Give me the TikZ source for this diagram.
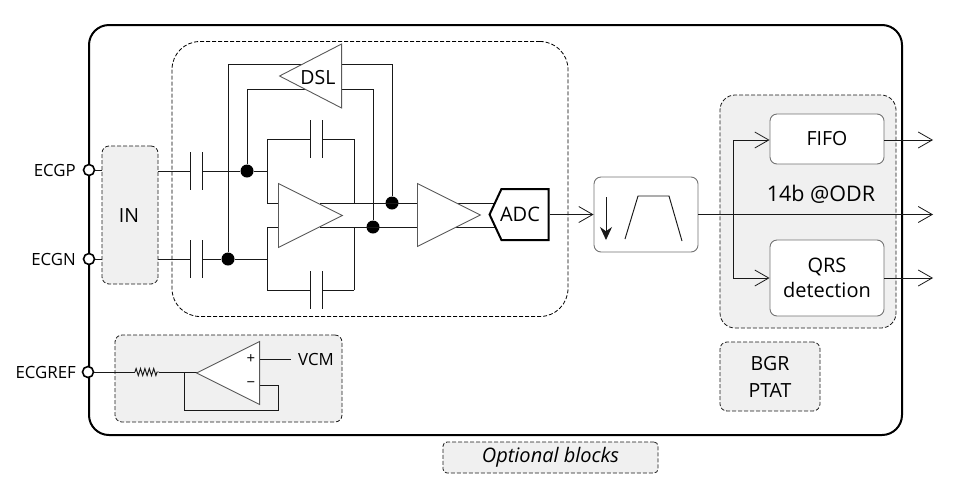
\documentclass[tikz,border=0pt]{standalone}
\usepackage{fontspec}
\setmainfont{Open Sans}
\usetikzlibrary{arrows.meta,shapes.geometric,shapes.symbols,decorations.pathmorphing}
\tikzset{
    wire/.style={black!90,line width=0.95pt},
    sigarrow/.style={wire,-{Straight Barb[length=14pt,width=16pt,line width=0.8pt]}},
    optblock/.style={draw=black!90,dashed,dash pattern=on 4pt off 2pt,line width=0.8pt,fill=black!6,rounded corners=7pt,inner sep=0pt},
    logicbox/.style={draw=black!55,line width=0.9pt,fill=white,rounded corners=7pt,inner sep=0pt,align=center},
    amp/.style={draw=black!65,line width=0.9pt,fill=white,isosceles triangle,isosceles triangle stretches,inner sep=0pt,anchor=lower side},
    capv/.style={inner sep=0pt,minimum width=12pt,minimum height=37pt,append after command={
        (\tikzlastnode.north west) edge[wire] (\tikzlastnode.south west)
        (\tikzlastnode.north east) edge[wire] (\tikzlastnode.south east)}},
    dotnode/.style={circle,fill=black,inner sep=0pt,minimum size=13pt},
    pinnode/.style={circle,draw=black,line width=1.6pt,fill=white,inner sep=0pt,minimum size=11pt},
    lbl/.style={font=\fontsize{19.5}{27}\selectfont,align=center,inner sep=0pt},
    pinlbl/.style={font=\fontsize{16.8}{20}\selectfont,inner sep=0pt,anchor=east},
}
\begin{document}
\begin{tikzpicture}[x=1pt,y=-1pt]
    \useasboundingbox (0,0) rectangle (960,496);

    % Chip outline and dashed regions
    \node[draw=black,line width=2pt,rounded corners=20pt,minimum width=813pt,minimum height=410pt,inner sep=0pt] (chip) at (495.5,230) {};
    \node[draw=black,dashed,dash pattern=on 4pt off 2pt,line width=0.8pt,rounded corners=28pt,minimum width=396pt,minimum height=275pt,inner sep=0pt] (afe) at (370,179) {};
    \node[optblock,minimum width=56pt,minimum height=138pt] (inblock) at (130,215) {};
    \node[lbl] (inlabel) at (129,216) {IN};
    \node[optblock,minimum width=227pt,minimum height=87pt] (refblock) at (228.5,378.5) {};
    \node[optblock,rounded corners=15pt,minimum width=176pt,minimum height=233pt] (dspblock) at (808,211.5) {};
    \node[optblock,minimum width=100pt,minimum height=69pt] (bgr) at (770,376.5) {};
    \node[lbl] (bgrlabel) at (770,376.5) {BGR\\PTAT};
    \node[optblock,rounded corners=4pt,minimum width=215pt,minimum height=31pt,font=\fontsize{20}{24}\selectfont\itshape] (legend) at (550.5,457.5) {Optional blocks};

    % Pins
    \node[pinnode] (ecgp) at (89,170) {};
    \node[pinnode] (ecgn) at (89,259) {};
    \node[pinnode] (ecgref) at (88,372) {};
    \node[pinlbl] (ecgplabel) at (76,170) {ECGP};
    \node[pinlbl] (ecgnlabel) at (76,259) {ECGN};
    \node[pinlbl] (ecgreflabel) at (76,372) {ECGREF};

    % Capacitors
    \node[capv] (cinp) at (196.5,171) {};
    \node[capv] (cinn) at (196.5,259) {};
    \node[capv] (cfbp) at (316.5,139) {};
    \node[capv] (cfbn) at (316.5,290) {};

    % Junctions
    \coordinate (fbpl) at (267,139);
    \coordinate (fbpr) at (354,139);
    \coordinate (fbnl) at (267,290);
    \coordinate (fbnr) at (354,290);
    \node[dotnode] (jinp) at (247,171) {};
    \node[dotnode] (jinn) at (228,259) {};
    \node[dotnode] (joutp) at (392,203) {};
    \node[dotnode] (joutn) at (373,227) {};
    \coordinate (dslt) at (228,64);
    \coordinate (dsltr) at (392,64);
    \coordinate (dslb) at (247,89);
    \coordinate (dslbr) at (373,89);

    % Wires behind the amplifiers
    \draw[wire] (ecgp) -- (ecgp -| inblock.west);
    \draw[wire] (ecgn) -- (ecgn -| inblock.west);
    \draw[wire] (inblock.east |- cinp) -- (cinp.west);
    \draw[wire] (inblock.east |- cinn) -- (cinn.west);
    \draw[wire] (cinp.east) -- (jinp) -- (jinp -| fbpl);
    \draw[wire] (cinn.east) -- (jinn) -- (jinn -| fbnl);
    \draw[wire] (fbpl) -- (cfbp.west);
    \draw[wire] (cfbp.east) -- (fbpr);
    \draw[wire] (fbnl) -- (cfbn.west);
    \draw[wire] (cfbn.east) -- (fbnr);
    \draw[wire] (fbpl) |- (278,203);
    \draw[wire] (fbnl) |- (278,227);
    \draw[wire] (fbpr) -- (354,203);
    \draw[wire] (fbnr) -- (354,227);
    \draw[wire] (jinn) -- (dslt) -- (dsltr) -- (joutp);
    \draw[wire] (jinp) -- (dslb) -- (dslbr) -- (joutn);
    \draw[wire] (320,203) -- (500,203);
    \draw[wire] (320,227) -- (500,227);

    % Amplifiers and converter
    \node[amp,shape border rotate=180,minimum width=64pt,minimum height=62pt] (dsl) at (342,76) {};
    \node[lbl] (dsllabel) at (318,78) {DSL};
    \node[amp,minimum width=64pt,minimum height=64pt] (amp1) at (278,215.5) {};
    \node[amp,minimum width=63pt,minimum height=63pt] (amp2) at (417,215) {};
    \node[draw=black,line width=2pt,fill=white,signal,signal to=west,signal pointer angle=130,inner sep=0pt,minimum width=59pt,minimum height=51pt,font=\fontsize{20}{24}\selectfont] (adc) at (525,214.5) {\hspace*{-10pt}ADC};

    % Decimation filter
    \node[logicbox,minimum width=104pt,minimum height=75pt] (filter) at (646,214.5) {};
    \coordinate (dectop) at (606,197);
    \coordinate (decbot) at (606,240);
    \draw[wire,-{Stealth[length=13pt,width=12pt]}] (dectop) -- (decbot);
    \coordinate (bp1) at (625,239);
    \coordinate (bp2) at (638,196);
    \coordinate (bp3) at (669,196);
    \coordinate (bp4) at (682,241);
    \draw[wire] (bp1) -- (bp2) -- (bp3) -- (bp4);

    % Output section
    \node[logicbox,minimum width=114pt,minimum height=50pt,font=\fontsize{19.5}{25}\selectfont] (fifo) at (827,139) {FIFO};
    \node[logicbox,minimum width=114pt,minimum height=76pt,font=\fontsize{20}{25}\selectfont] (qrs) at (827,278) {QRS\\detection};
    \node[lbl,font=\fontsize{21.5}{26}\selectfont] (odr) at (821,194) {14b @ODR};
    \coordinate (outf) at (933,140);
    \coordinate (outm) at (933,214.5);
    \coordinate (outq) at (933,278);
    \coordinate (branch) at (733,214.5);

    \draw[sigarrow] (adc.east) -- (filter.west);
    \draw[sigarrow] (filter.east) -- (outm);
    \draw[sigarrow] (branch) |- (fifo.west |- outf);
    \draw[sigarrow] (branch) |- (qrs.west);
    \draw[sigarrow] (fifo.east |- outf) -- (outf);
    \draw[sigarrow] (qrs.east) -- (outq);

    % Reference buffer
    \coordinate (res1) at (135,372);
    \coordinate (res2) at (159,372);
    \coordinate (fbnode) at (184,372);
    \coordinate (fbcorner) at (278,410);
    \coordinate (fbin) at (260,385);
    \draw[wire] (ecgref) -- (res1);
    \draw[wire,decorate,decoration={zigzag,segment length=4.4pt,amplitude=3.5pt}] (res1) -- (res2);
    \draw[wire] (res2) -- (197,372);
    \draw[wire] (fbin) -| (fbcorner) -| (fbnode);
    \node[amp,shape border rotate=180,minimum width=63pt,minimum height=63pt] (buf) at (260,373) {};
    \node[font=\fontsize{15}{18}\selectfont,inner sep=0pt] (bufplus) at (251,359) {+};
    \node[font=\fontsize{15}{18}\selectfont,inner sep=0pt] (bufminus) at (251,385) {−};
    \node[pinlbl,anchor=west] (vcm) at (298,359) {VCM};
    \draw[wire,shorten >=7pt] (buf.lower side |- vcm) -- (vcm.west);
\end{tikzpicture}
\end{document}
